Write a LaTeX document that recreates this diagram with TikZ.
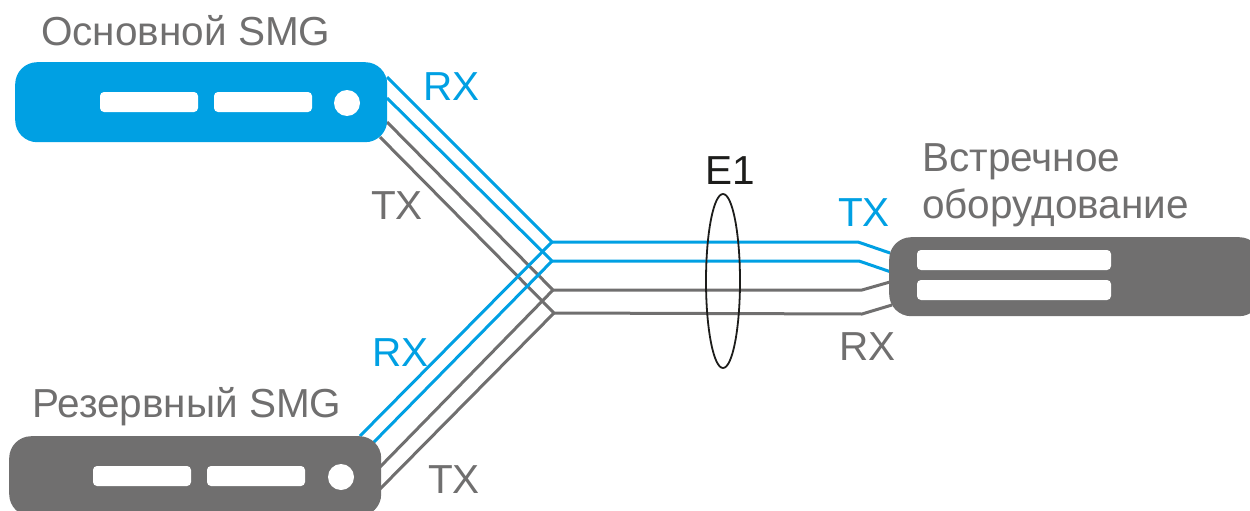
\documentclass[tikz,border=0pt]{standalone}
\usepackage{fontspec}
\setmainfont{Liberation Sans}
\definecolor{smgblue}{HTML}{00A0E3}
\definecolor{smggray}{HTML}{706F6F}
\definecolor{smgdark}{HTML}{1D1D1B}
\tikzset{
  device/.style={rounded corners=22pt,minimum width=372pt,minimum height=80pt,inner sep=0pt,anchor=north west},
  slot/.style={fill=white,rounded corners=4pt,minimum height=20pt,inner sep=0pt},
  port/.style={circle,fill=white,minimum size=26pt,inner sep=0pt},
  lbl/.style={inner sep=0pt,font=\fontsize{40.5pt}{44pt}\selectfont},
  bwire/.style={draw=smgblue,line width=3pt,line join=miter},
  gwire/.style={draw=smggray,line width=3pt,line join=miter}
}
\begin{document}
\begin{tikzpicture}[x=1pt,y=-1pt]
\useasboundingbox (0,0) rectangle (1250,511);
\clip (0,0) rectangle (1250,511);
% junction and end coordinates
\coordinate (j1) at (552,242); \coordinate (j2) at (552,261);
\coordinate (j3) at (553,290); \coordinate (j4) at (554,313);
\coordinate (a1) at (387,77);  \coordinate (a2) at (387,98);
\coordinate (a3) at (387,122); \coordinate (a4) at (380,137);
\coordinate (b1) at (360,436); \coordinate (b2) at (373,443);
\coordinate (b3) at (380,467); \coordinate (b4) at (380,489);
\coordinate (k1) at (858,242); \coordinate (k2) at (859,261);
\coordinate (k3) at (862,290); \coordinate (k4) at (862,314);
\coordinate (c1) at (890,253); \coordinate (c2) at (891,272);
\coordinate (c3) at (890,282); \coordinate (c4) at (892,305);
% wires
\draw[gwire] (a3) -- (j3) -- (k3) -- (c3);
\draw[gwire] (a4) -- (j4) -- (k4) -- (c4);
\draw[gwire] (b3) -- (j3);
\draw[gwire] (b4) -- (j4);
\draw[bwire] (a1) -- (j1) -- (k1) -- (c1);
\draw[bwire] (a2) -- (j2) -- (k2) -- (c2);
\draw[bwire] (b1) -- (j1);
\draw[bwire] (b2) -- (j2);
% devices
\node[device,fill=smgblue] (main) at (15,62) {};
\node[device,fill=smggray] (res) at (9,436) {};
\node[device,fill=smggray,minimum height=79pt] (peer) at (889,237) {};
\node[slot,minimum width=98pt] (m1) at (149,102) {};
\node[slot,minimum width=98pt] (m2) at (263,102) {};
\node[port] (m3) at (347,103) {};
\node[slot,minimum width=98pt] (r1) at (142,476) {};
\node[slot,minimum width=98pt] (r2) at (256,476) {};
\node[port] (r3) at (341,477) {};
\node[slot,minimum width=194pt] (p1) at (1014,260) {};
\node[slot,minimum width=194pt] (p2) at (1014,290) {};
% bundle ellipse
\draw[smgdark,line width=1.8pt] (723,281) ellipse [x radius=17,y radius=87];
% labels
\node[lbl,text=smggray,anchor=base west] (t1) at (41,46) {Основной SMG};
\node[lbl,text=smggray,anchor=base west] (t2) at (32,417) {Резервный SMG};
\node[lbl,text=smggray,anchor=base west] (t3) at (922,171) {Встречное};
\node[lbl,text=smggray,anchor=base west] (t4) at (922,218) {оборудование};
\node[lbl,text=smgdark,anchor=base west] (t5) at (705,184) {E1};
\node[lbl,text=smgblue,anchor=base west] (t6) at (423,100) {RX};
\node[lbl,text=smggray,anchor=base west] (t7) at (371,219) {TX};
\node[lbl,text=smgblue,anchor=base west] (t8) at (372,366) {RX};
\node[lbl,text=smggray,anchor=base west] (t9) at (428,493) {TX};
\node[lbl,text=smgblue,anchor=base west] (t10) at (838,226) {TX};
\node[lbl,text=smggray,anchor=base west] (t11) at (839,360) {RX};
\end{tikzpicture}
\end{document}
